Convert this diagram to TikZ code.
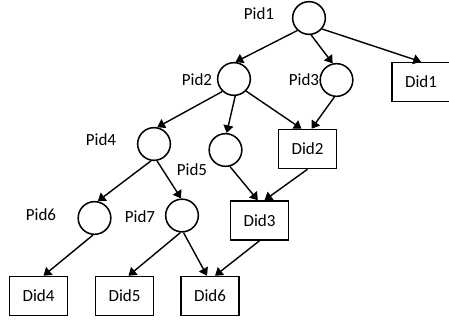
\documentclass[tikz,border=0pt]{standalone}
\usepackage{fontspec}
\setmainfont{Carlito}
\usetikzlibrary{arrows.meta}

\tikzset{
  proc/.style={draw, circle, line width=1.3pt, minimum size=0.98cm, inner sep=0pt},
  doc/.style={draw, rectangle, line width=1.3pt, minimum width=1.74cm, minimum height=1.17cm, inner sep=0pt},
  lbl/.style={inner sep=0pt},
  edge/.style={-{Triangle[length=6.5pt,width=8.5pt]}, line width=1.2pt}
}

\begin{document}
\begin{tikzpicture}[x=0.03cm, y=-0.03cm, font=\fontsize{14.5}{17}\selectfont]
    \useasboundingbox (0,0) rectangle (449,321);

    % Process nodes
    \node[proc] (pid1) at (309,18) {};
    \node[proc] (pid2) at (234,79) {};
    \node[proc] (pid3) at (336.5,80) {};
    \node[proc] (pid4) at (154,144) {};
    \node[proc] (pid5) at (225.5,150) {};
    \node[proc] (pid6) at (94.5,218) {};
    \node[proc] (pid7) at (182,215.5) {};

    % Labels
    \node[lbl] (l1) at (259,14) {Pid1};
    \node[lbl] (l2) at (197,80) {Pid2};
    \node[lbl] (l3) at (304,80) {Pid3};
    \node[lbl] (l4) at (101,140) {Pid4};
    \node[lbl] (l5) at (192,170) {Pid5};
    \node[lbl] (l6) at (41,215) {Pid6};
    \node[lbl] (l7) at (140,217) {Pid7};

    % Data nodes
    \node[doc] (did1) at (421,82) {Did1};
    \node[doc] (did2) at (307.5,149) {Did2};
    \node[doc] (did3) at (259.5,220.5) {Did3};
    \node[doc] (did4) at (38.5,296) {Did4};
    \node[doc] (did5) at (124.5,296) {Did5};
    \node[doc] (did6) at (210,296) {Did6};

    % Edges
    \draw[edge] (pid1.-133) -- (pid2.85);
    \draw[edge] (pid1.-83) -- (pid3.103);
    \draw[edge] (pid1.-40) -- (did1.north);
    \draw[edge] (pid2.-133) -- (pid4.79);
    \draw[edge] (pid2.-86) -- (pid5.86);
    \draw[edge] (pid2.-45) -- ([xshift=-0.18cm]did2.north);
    \draw[edge] (pid3.-97) -- ([xshift=0.12cm]did2.north);
    \draw[edge] (pid4.-100) -- (pid6.79);
    \draw[edge] (pid4.-80) -- (pid7.93);
    \draw[edge] (pid5.-75) -- ([xshift=-0.05cm]did3.north);
    \draw[edge] (did2.south) -- ([xshift=0.15cm]did3.north);
    \draw[edge] (pid6.-95) -- ([xshift=0.15cm]did4.north);
    \draw[edge] (pid7.-95) -- ([xshift=0.12cm]did5.north);
    \draw[edge] (pid7.-85) -- ([xshift=-0.09cm]did6.north);
    \draw[edge] (did3.south) -- ([xshift=0.15cm]did6.north);
\end{tikzpicture}
\end{document}
